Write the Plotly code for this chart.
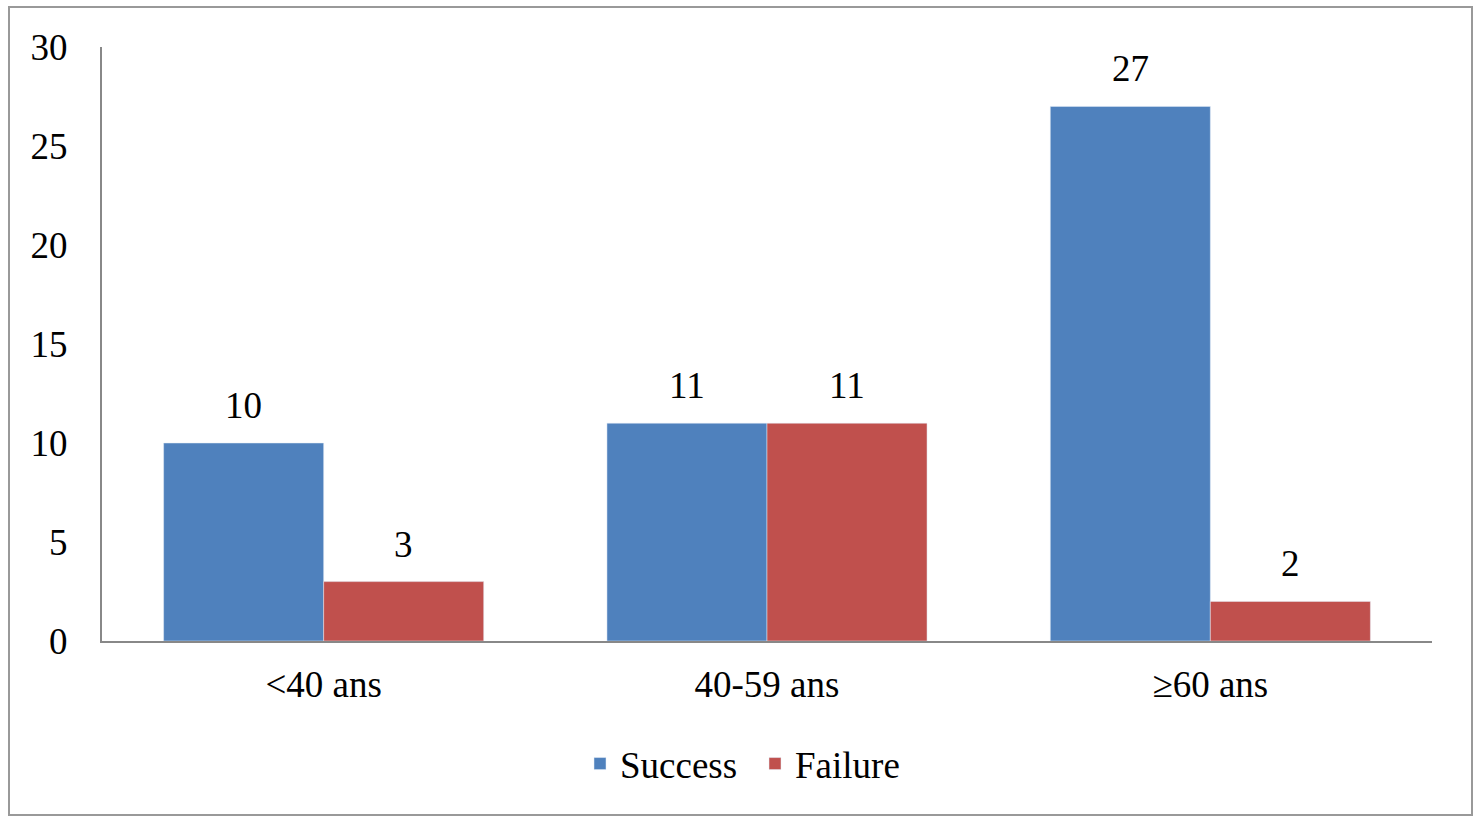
import plotly.graph_objects as go

categories = ["<40 ans", "40-59 ans", "≥60 ans"]
success = [10, 11, 27]
failure = [3, 11, 2]
y_ticks = [0, 5, 10, 15, 20, 25, 30]

FONT = "Liberation Serif, Times New Roman, serif"
FS = 37

W, H = 1481, 817
L, R, T, B = 102, 49, 47, 176
pw, ph = W - L - R, H - T - B
BARGAP = 0.278
bar_px = pw / len(categories) * (1 - BARGAP) / 2


def px(x):
    return (x - L) / pw


def py(y):
    return (H - B - y) / ph


fig = go.Figure()
fig.add_trace(go.Bar(name="Success", x=categories, y=success, marker_color="#4F81BD"))
fig.add_trace(go.Bar(name="Failure", x=categories, y=failure, marker_color="#C0504D"))

annotations = []
for series, sign in ((success, -1), (failure, 1)):
    for c, v in zip(categories, series):
        annotations.append(dict(x=c, y=v, xref="x", yref="y", text=str(v), showarrow=False,
                                xshift=sign * bar_px / 2, yshift=15, yanchor="bottom",
                                font=dict(size=FS, color="#000")))

fig.update_layout(
    width=W, height=H,
    margin=dict(l=L, r=R, t=T, b=B),
    paper_bgcolor="white", plot_bgcolor="white",
    barmode="group", bargap=BARGAP, bargroupgap=0,
    font=dict(family=FONT, size=FS, color="#000"),
    showlegend=True,
    legend=dict(orientation="h", x=px(580), xanchor="left", y=py(764), yanchor="middle",
                font=dict(size=FS), itemwidth=30, entrywidth=130, entrywidthmode="pixels"),
    xaxis=dict(showline=True, linecolor="#888", linewidth=2, ticks="",
               ticklabelstandoff=10, tickfont=dict(size=FS)),
    yaxis=dict(range=[0, 30], tickvals=y_ticks, showgrid=False, zeroline=False,
               showline=True, linecolor="#888", linewidth=2, ticks="",
               ticklabelstandoff=25, tickfont=dict(size=FS)),
    annotations=annotations,
    shapes=[dict(type="rect", xref="paper", yref="paper",
                 x0=px(9), x1=px(1472), y0=py(815), y1=py(7),
                 line=dict(color="#999", width=2), fillcolor="rgba(0,0,0,0)")],
)

fig.write_html("out.html", config={"displayModeBar": False},
               post_script="document.body.style.margin='0';document.body.style.overflow='hidden';")
